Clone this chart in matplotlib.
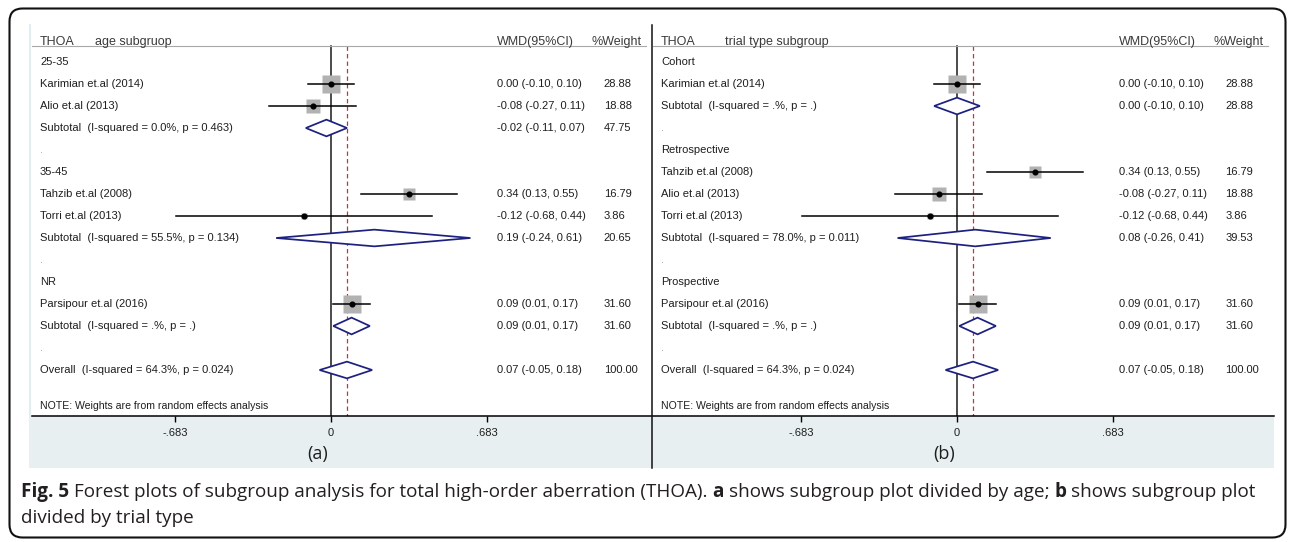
import numpy as np
import matplotlib
matplotlib.use("Agg")
import matplotlib.pyplot as plt
from matplotlib.patches import Polygon, Rectangle, FancyBboxPatch
from matplotlib.transforms import IdentityTransform

nan = np.nan

# Panel (a): THOA, age subgroups
a_labels = ["25-35", "Karimian et.al (2014)", "Alio et.al (2013)",
            "Subtotal  (I-squared = 0.0%, p = 0.463)", ".",
            "35-45", "Tahzib et.al (2008)", "Torri et.al (2013)",
            "Subtotal  (I-squared = 55.5%, p = 0.134)", ".",
            "NR", "Parsipour et.al (2016)",
            "Subtotal  (I-squared = .%, p = .)", ".",
            "Overall  (I-squared = 64.3%, p = 0.024)"]
a_kind = ["group", "study", "study", "pooled", "blank",
          "group", "study", "study", "pooled", "blank",
          "group", "study", "pooled", "blank", "pooled"]
a_est = [nan, 0.00, -0.08, -0.02, nan, nan, 0.34, -0.12, 0.19, nan, nan, 0.09, 0.09, nan, 0.07]
a_lo = [nan, -0.10, -0.27, -0.11, nan, nan, 0.13, -0.68, -0.24, nan, nan, 0.01, 0.01, nan, -0.05]
a_hi = [nan, 0.10, 0.11, 0.07, nan, nan, 0.55, 0.44, 0.61, nan, nan, 0.17, 0.17, nan, 0.18]
a_wt = [nan, 28.88, 18.88, 47.75, nan, nan, 16.79, 3.86, 20.65, nan, nan, 31.60, 31.60, nan, 100.00]

# Panel (b): THOA, trial type subgroups
b_labels = ["Cohort", "Karimian et.al (2014)",
            "Subtotal  (I-squared = .%, p = .)", ".",
            "Retrospective", "Tahzib et.al (2008)", "Alio et.al (2013)", "Torri et.al (2013)",
            "Subtotal  (I-squared = 78.0%, p = 0.011)", ".",
            "Prospective", "Parsipour et.al (2016)",
            "Subtotal  (I-squared = .%, p = .)", ".",
            "Overall  (I-squared = 64.3%, p = 0.024)"]
b_kind = ["group", "study", "pooled", "blank",
          "group", "study", "study", "study", "pooled", "blank",
          "group", "study", "pooled", "blank", "pooled"]
b_est = [nan, 0.00, 0.00, nan, nan, 0.34, -0.08, -0.12, 0.08, nan, nan, 0.09, 0.09, nan, 0.07]
b_lo = [nan, -0.10, -0.10, nan, nan, 0.13, -0.27, -0.68, -0.26, nan, nan, 0.01, 0.01, nan, -0.05]
b_hi = [nan, 0.10, 0.10, nan, nan, 0.55, 0.11, 0.44, 0.41, nan, nan, 0.17, 0.17, nan, 0.18]
b_wt = [nan, 28.88, 28.88, nan, nan, 16.79, 18.88, 3.86, 39.53, nan, nan, 31.60, 31.60, nan, 100.00]

tick_vals = [-0.683, 0, 0.683]
tick_text = ["-.683", "0", ".683"]
note = "NOTE: Weights are from random effects analysis"

W, H = 1292, 542
fig = plt.figure(figsize=(W / 100, H / 100), dpi=100)
fig.patch.set_facecolor("white")

ROW0, ROWH = 62, 22        # first row centre and row pitch, px
AX_TOP, AX_BOT = 25, 416   # plotting area, px from top
BAND_BOT = 468
PX_PER_UNIT = 228.6
TXT = "#1e1e1e"
NAVY = "#1c2080"
FONT = "Liberation Sans"


def px_box(left, top, right, bottom):
    return [left / W, 1 - bottom / H, (right - left) / W, (bottom - top) / H]


def to_row(y_px):
    return (y_px - ROW0) / ROWH


def forest(left, right, zero_px, title, title_x, labels, kind, est, lo, hi, wt, tag):
    ax = fig.add_axes(px_box(left, AX_TOP, right, AX_BOT))
    ax.set_facecolor("none")
    ax.set_xlim((left - zero_px) / PX_PER_UNIT, (right - zero_px) / PX_PER_UNIT)
    ax.set_ylim(to_row(AX_BOT), to_row(AX_TOP))
    for s in ("top", "left", "right"):
        ax.spines[s].set_visible(False)
    ax.spines["bottom"].set_linewidth(1.1)
    ax.set_yticks([])
    ax.set_xticks(tick_vals)
    ax.set_xticklabels(tick_text, fontfamily=FONT, fontsize=8, color=TXT)
    ax.tick_params(axis="x", direction="out", length=4.5, width=1.0, pad=4)

    tr = ax.get_yaxis_transform()
    hdr_row = to_row(42)
    line_row = to_row(45.5)
    ax.plot([0, 0.99], [line_row, line_row], transform=tr, color="#a8a8a8", lw=0.8)
    for x, s in [(0.013, "THOA"), (title_x, title), (0.75, "WMD(95%CI)"), (0.903, "%Weight")]:
        ax.text(x, hdr_row, s, transform=tr, fontfamily=FONT, fontsize=9,
                color="#3a3a3a", va="center", ha="left")

    bottom = to_row(AX_BOT)
    ax.plot([0, 0], [line_row, bottom], color="#1a1a1a", lw=1.1, zorder=1)
    overall = est[-1]
    ax.plot([overall, overall], [line_row, bottom], color="#c8323c", lw=0.9,
            ls=(0, (3.5, 2.5)), zorder=1)

    for r, (lab, k) in enumerate(zip(labels, kind)):
        col = "#9a9a9a" if k == "blank" else TXT
        ax.text(0.013, r, lab, transform=tr, fontfamily=FONT, fontsize=8,
                color=col, va="center", ha="left")
        if k in ("blank", "group"):
            continue
        ax.text(0.75, r, f"{est[r]:.2f} ({lo[r]:.2f}, {hi[r]:.2f})", transform=tr,
                fontfamily=FONT, fontsize=8, color=TXT, va="center", ha="left")
        ax.text(0.922, r, f"{wt[r]:.2f}", transform=tr,
                fontfamily=FONT, fontsize=8, color=TXT, va="center", ha="left")
        if k == "study":
            ax.plot([est[r]], [r], marker="s", ms=2.28 * np.sqrt(wt[r]),
                    color="#b2b2b2", mec="none", zorder=2)
            ax.plot([lo[r], hi[r]], [r, r], color="black", lw=1.1, zorder=3)
            ax.plot([est[r]], [r], marker="o", ms=3.4, color="black", zorder=4)
        else:
            h = 0.38
            ax.add_patch(Polygon([(lo[r], r), (est[r], r - h), (hi[r], r), (est[r], r + h)],
                                 closed=True, facecolor="white", edgecolor=NAVY,
                                 lw=1.25, zorder=3))

    ax.text(0.013, to_row(406), note, transform=tr, fontfamily=FONT, fontsize=7.6,
            color=TXT, va="center", ha="left")
    fig.text(zero_px / W - 13 / W, 1 - 454 / H, tag, fontfamily="Open Sans",
             fontsize=13, color=TXT, va="center", ha="center")
    return ax


# grey strip under both axes
fig.add_artist(Rectangle((29 / W, 1 - BAND_BOT / H), (1274 - 29) / W, (BAND_BOT - AX_BOT) / H,
                         transform=fig.transFigure, facecolor="#e8eff1",
                         edgecolor="none", zorder=0))
fig.add_artist(plt.Line2D([30.5 / W, 30.5 / W], [1 - AX_BOT / H, 1 - AX_TOP / H],
                          transform=fig.transFigure, color="#dbeaee", lw=1.2))

forest(32, 652, 331, "age subgruop", 0.1016, a_labels, a_kind, a_est, a_lo, a_hi, a_wt, "(a)")
forest(653, 1274, 957, "trial type subgroup", 0.116, b_labels, b_kind, b_est, b_lo, b_hi, b_wt, "(b)")

# divider between the two panels
fig.add_artist(plt.Line2D([652.5 / W, 652.5 / W], [1 - BAND_BOT / H, 1 - AX_TOP / H],
                          transform=fig.transFigure, color="#111111", lw=1.1))

# rounded frame around figure and caption
fig.add_artist(FancyBboxPatch((9.5, 4.5), 1276, 529,
                              boxstyle="round,pad=0,rounding_size=13",
                              transform=IdentityTransform(), facecolor="none",
                              edgecolor="#111111", lw=1.5))

# caption, with bold runs placed one after another
renderer = fig.canvas.get_renderer()
CAP_SIZE = 13.6

space_probe = fig.text(0, 0, "x x", fontfamily="Open Sans", fontsize=CAP_SIZE)
nospace_probe = fig.text(0, 0, "xx", fontfamily="Open Sans", fontsize=CAP_SIZE)
SPACE = space_probe.get_window_extent(renderer).width - nospace_probe.get_window_extent(renderer).width
space_probe.remove()
nospace_probe.remove()


def caption_runs(y_px, runs):
    x = 21.0
    for i, (s, bold) in enumerate(runs):
        if i > 0:
            x += SPACE
        t = fig.text(x / W, 1 - y_px / H, s, fontfamily="Open Sans", fontsize=CAP_SIZE,
                     fontweight="bold" if bold else "normal", color="#231f20",
                     va="baseline", ha="left")
        x += t.get_window_extent(renderer).width


caption_runs(497, [("Fig. 5", True),
                   ("Forest plots of subgroup analysis for total high-order aberration (THOA).", False),
                   ("a", True), ("shows subgroup plot divided by age;", False),
                   ("b", True), ("shows subgroup plot", False)])
caption_runs(523, [("divided by trial type", False)])

fig.savefig("out.png", dpi=100)
